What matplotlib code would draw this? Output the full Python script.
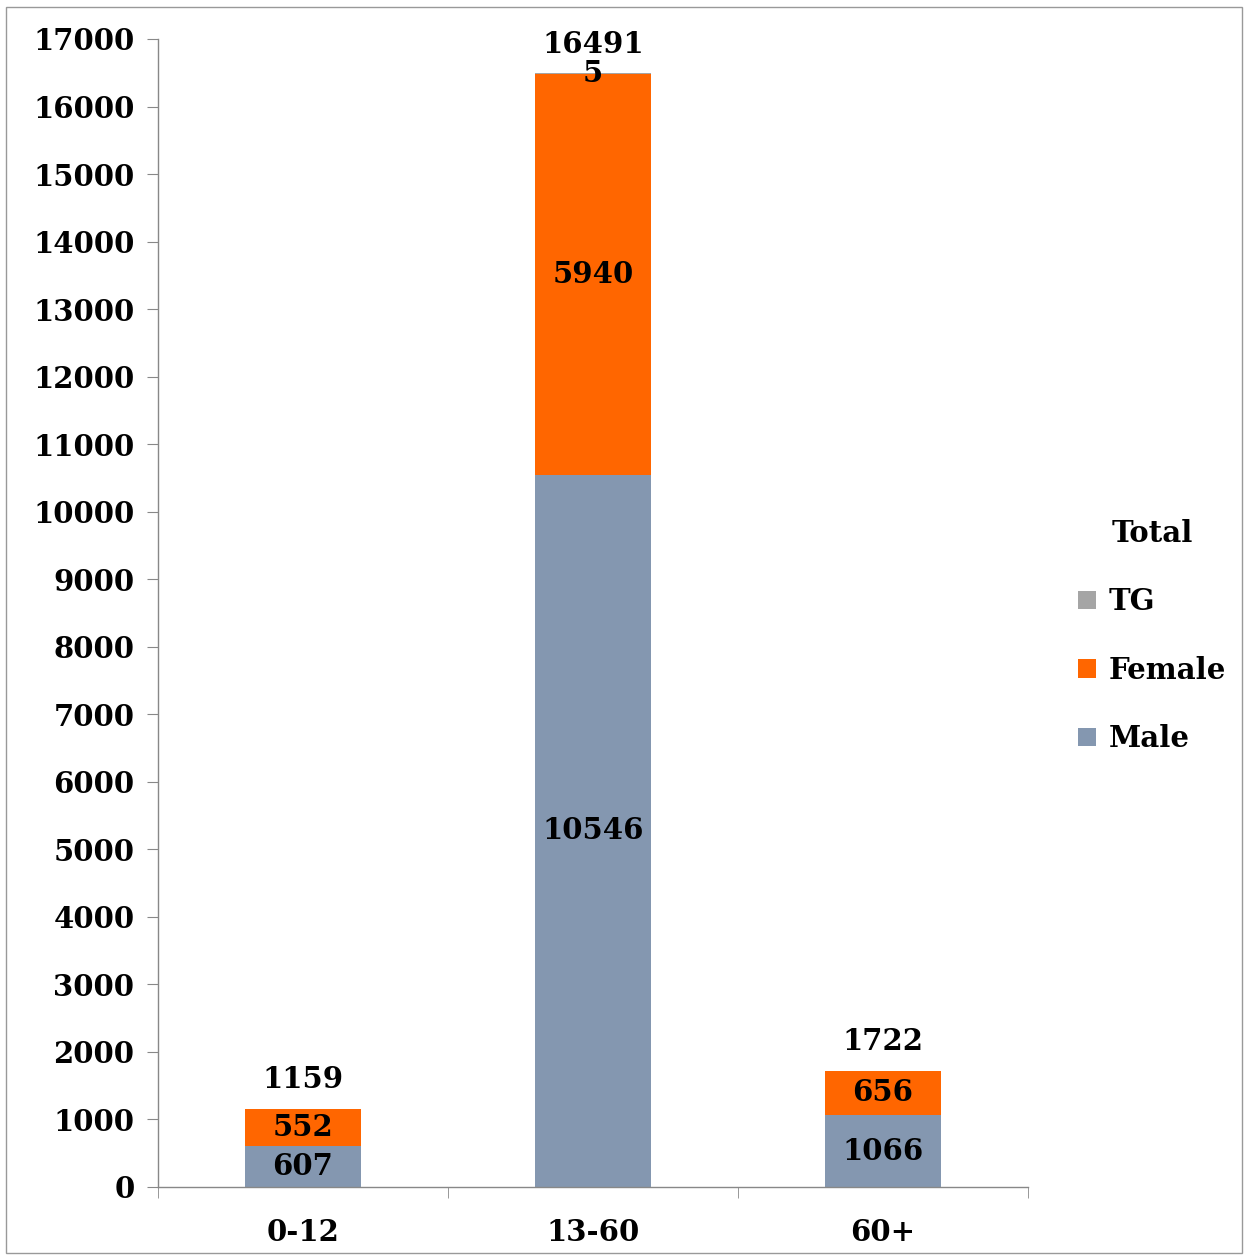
import matplotlib
matplotlib.use('Agg')
import matplotlib.pyplot as plt
from matplotlib.patches import Rectangle
import numpy as np

# age groups and counts per gender
groups = ['0-12', '13-60', '60+']
male = [607, 10546, 1066]
female = [552, 5940, 656]
tg = [0, 5, 0]
totals = [1159, 16491, 1722]

plt.rcParams['font.family'] = ['DejaVu Serif']
plt.rcParams['font.weight'] = 'bold'
fs = 21

fig = plt.figure(figsize=(12.44, 12.57), dpi=100)
ax = fig.add_axes([158/1244, 1 - 1187/1257, (1028-158)/1244, (1187-39)/1257])

x = np.arange(len(groups))
w = 0.4
male_c = '#8497B0'
female_c = '#FF6600'
tg_c = '#A5A5A5'

b1 = ax.bar(x, male, w, color=male_c, label='Male')
bottom2 = np.array(male)
b2 = ax.bar(x, female, w, bottom=bottom2, color=female_c, label='Female')
bottom3 = bottom2 + np.array(female)
b3 = ax.bar(x, tg, w, bottom=bottom3, color=tg_c, label='TG')

for i in range(len(groups)):
    ax.text(x[i], male[i] / 2, str(male[i]), ha='center', va='center',
            fontsize=fs, fontweight='bold')
    ax.text(x[i], bottom2[i] + female[i] / 2, str(female[i]), ha='center', va='center',
            fontsize=fs, fontweight='bold')
    if tg[i] > 0:
        ax.text(x[i], bottom3[i] + tg[i] / 2, str(tg[i]), ha='center', va='center',
                fontsize=fs, fontweight='bold')
    ax.annotate(str(totals[i]), (x[i], bottom3[i] + tg[i]), xytext=(0, 21),
                textcoords='offset points', ha='center', va='center',
                fontsize=fs, fontweight='bold')

ax.set_xlim(-0.5, 2.5)
ax.set_ylim(0, 17000)
ax.set_yticks(np.arange(0, 17001, 1000))
ax.set_xticks(x)
ax.set_xticklabels(groups, fontsize=fs, fontweight='bold')
ax.set_xticks([-0.5, 0.5, 1.5, 2.5], minor=True)
ax.tick_params(axis='x', which='major', length=0, pad=22)
ax.tick_params(axis='x', which='minor', length=8, color='#888888', direction='out')
ax.tick_params(axis='y', length=8, color='#888888', direction='out', labelsize=fs, pad=9)
for lab in ax.get_yticklabels():
    lab.set_fontweight('bold')

for s in ['top', 'right']:
    ax.spines[s].set_visible(False)
for s in ['left', 'bottom']:
    ax.spines[s].set_color('#888888')
    ax.spines[s].set_linewidth(1)

handles = [b3, b2, b1]
leg = fig.legend(handles, ['TG', 'Female', 'Male'], title='Total',
                 loc='center left', bbox_to_anchor=(1052/1244, 1 - 636/1257),
                 frameon=False, handlelength=0.6, handleheight=0.6,
                 handletextpad=0.45, labelspacing=1.35,
                 prop={'size': fs, 'weight': 'bold'},
                 title_fontproperties={'size': fs, 'weight': 'bold'})

fig.patches.append(Rectangle((6/1244, 4/1257), 1236/1244, 1246/1257,
                             transform=fig.transFigure, fill=False,
                             edgecolor='#999999', linewidth=1))

fig.savefig('out.png', dpi=100)
